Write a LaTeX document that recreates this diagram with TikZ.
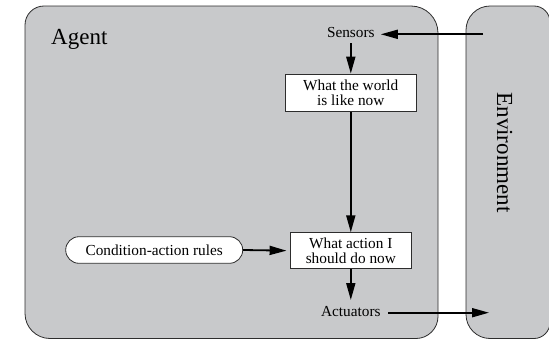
\documentclass[tikz,border=0pt]{standalone}
\usepackage{fontspec}
\setmainfont{Liberation Serif}
\newfontfamily\timesf{Liberation Serif}
\usetikzlibrary{arrows.meta}
\definecolor{panel}{RGB}{200,201,203}
\definecolor{edgec}{RGB}{45,45,45}
\begin{document}
\begin{tikzpicture}[x=1pt,y=-1pt,
  panelshape/.style={fill=panel,draw=edgec,line width=0.8pt},
  small/.style={font=\timesf\fontsize{15.3}{15}\selectfont},
  big/.style={font=\timesf\fontsize{23}{26}\selectfont},
  boxnode/.style={small,draw=edgec,fill=white,line width=0.8pt,align=center,inner sep=0pt},
  arr/.style={line width=1.8pt,-{Triangle[length=17pt,width=9pt]}}
]
\useasboundingbox (0,0) rectangle (549,340);
% Agent panel
\path[panelshape] (25,25) .. controls (25,14.5) and (33.5,6) .. (44,6)
  -- (411,6) .. controls (425.9,6) and (438,18.1) .. (438,33)
  -- (438,316.5) .. controls (438,328.6) and (428.1,338.5) .. (416,338.5)
  -- (50,338.5) .. controls (36.2,338.5) and (25,327.3) .. (25,313.5)
  -- cycle;
% Environment panel
\path[panelshape] (466,30) .. controls (466,16.8) and (476.8,6) .. (490,6)
  -- (534,6) .. controls (542.8,6) and (550,13.2) .. (550,22)
  -- (550,322.5) .. controls (550,331.3) and (542.8,338.5) .. (534,338.5)
  -- (490,338.5) .. controls (476.8,338.5) and (466,327.7) .. (466,314.5)
  -- cycle;
% labels
\node[big,anchor=base west,inner sep=0pt] (agentlbl) at (51,44.3) {Agent};
\node[big,anchor=base,rotate=-90,inner sep=0pt] (envlbl) at (497,152.5) {Environment};
% nodes
\node[small,inner xsep=6pt,inner ysep=5pt,anchor=base] (sensors) at (350.8,37.7) {Sensors};
\node[boxnode,minimum width=131.5pt,minimum height=37.5pt] (world) at (350.8,92.8) {What the world\\is like now};
\node[boxnode,minimum width=121.7pt,minimum height=36pt] (action) at (350.8,250.7) {What action I\\should do now};
\node[small,draw=edgec,fill=white,line width=0.8pt,rounded corners=13.3pt,minimum width=177pt,minimum height=26.6pt,inner sep=0pt] (rules) at (154.2,250) {Condition-action rules};
\node[small,inner xsep=7.4pt,inner ysep=5.7pt,anchor=base] (actuators) at (350.8,316) {Actuators};
% free ends at the environment
\coordinate (sensin) at (483,34.3);
\coordinate (actout) at (489,312.7);
% connectors
\draw[arr] (sensin) -- (sensors.east |- sensin);
\draw[arr] (sensors.south) -- (world.north);
\draw[arr] (world.south) -- (action.north);
\draw[arr,shorten >=3pt] (rules.east) -- (action.west);
\draw[arr] (action.south) -- (actuators.north);
\draw[arr] (actuators.east |- actout) -- (actout);
\end{tikzpicture}
\end{document}
